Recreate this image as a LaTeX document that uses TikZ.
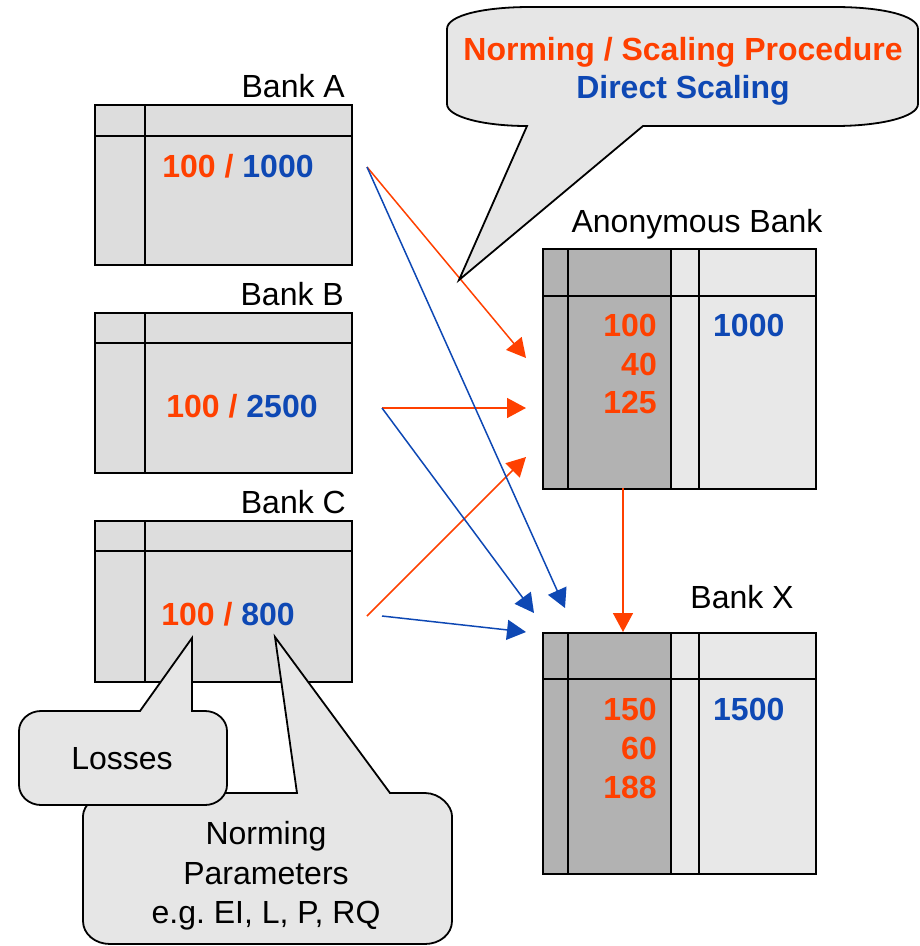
\documentclass[tikz,border=0pt]{standalone}
\usepackage{fontspec}
\setmainfont{Liberation Sans}
\usetikzlibrary{arrows.meta}
\frenchspacing
\definecolor{orng}{RGB}{255,64,0}
\definecolor{blu}{RGB}{14,72,180}
\definecolor{bankfill}{RGB}{221,221,221}
\definecolor{darkfill}{RGB}{178,178,178}
\definecolor{lightfill}{RGB}{232,232,232}
\definecolor{callfill}{RGB}{230,230,230}
\begin{document}
\begin{tikzpicture}[x=1pt,y=-1pt,
  tbl/.style={line width=2pt, draw=black},
  lbl/.style={font=\fontsize{32}{39.5}\selectfont, inner sep=0pt},
  num/.style={font=\fontsize{32}{39}\selectfont\bfseries, inner sep=0pt},
  oarr/.style={draw=orng, line width=1.5pt, -{Triangle[length=19pt,width=20pt]}},
  barr/.style={draw=blu, line width=1.5pt, -{Triangle[length=19pt,width=20pt]}},
  callout/.style={draw=black, line width=1.8pt, fill=callfill, line join=miter}
]
\useasboundingbox (0,0) rectangle (920,946);

% ---------- Bank A ----------
\node[tbl, fill=bankfill, anchor=north west, minimum width=257pt, minimum height=160pt, inner sep=0pt] (A) at (94,104) {};
\draw[tbl] (145,104) -- (145,264) (94,136) -- (351,136);
\node[lbl, anchor=base east] (labA) at (345,97) {Bank A};
\node[num, anchor=base] (valA) at (238,177) {\color{orng}100 / \color{blu}1000};

% ---------- Bank B ----------
\node[tbl, fill=bankfill, anchor=north west, minimum width=257pt, minimum height=160pt, inner sep=0pt] (B) at (94,312) {};
\draw[tbl] (145,312) -- (145,472) (94,343) -- (351,343);
\node[lbl, anchor=base east] (labB) at (344,305) {Bank B};
\node[num, anchor=base] (valB) at (242,417) {\color{orng}100 / \color{blu}2500};

% ---------- Bank C ----------
\node[tbl, fill=bankfill, anchor=north west, minimum width=257pt, minimum height=161pt, inner sep=0pt] (C) at (94,520) {};
\draw[tbl] (145,520) -- (145,681) (94,551) -- (351,551);
\node[lbl, anchor=base east] (labC) at (346,513) {Bank C};
\node[num, anchor=base] (valC) at (228,625) {\color{orng}100 / \color{blu}800};

% ---------- Anonymous Bank ----------
\fill[darkfill] (542,248) rectangle (671,488);
\fill[lightfill] (671,248) rectangle (815,488);
\node[tbl, anchor=north west, minimum width=273pt, minimum height=240pt, inner sep=0pt] (N) at (542,248) {};
\draw[tbl] (568,248) -- (568,488) (671,248) -- (671,488) (699,248) -- (699,488) (542,296) -- (815,296);
\node[lbl, anchor=base] (labN) at (697,232) {Anonymous Bank};
\node[num, anchor=base east, text=orng] (n1) at (657,336) {100};
\node[num, anchor=base east, text=orng] (n2) at (657,375) {40};
\node[num, anchor=base east, text=orng] (n3) at (657,413) {125};
\node[num, anchor=base west, text=blu] (n4) at (713,336) {1000};

% ---------- Bank X ----------
\fill[darkfill] (542,632) rectangle (671,873);
\fill[lightfill] (671,632) rectangle (815,873);
\node[tbl, anchor=north west, minimum width=273pt, minimum height=241pt, inner sep=0pt] (X) at (542,632) {};
\draw[tbl] (568,632) -- (568,873) (671,632) -- (671,873) (699,632) -- (699,873) (542,679) -- (815,679);
\node[lbl, anchor=base] (labX) at (742,608) {Bank X};
\node[num, anchor=base east, text=orng] (x1) at (657,720) {150};
\node[num, anchor=base east, text=orng] (x2) at (657,759) {60};
\node[num, anchor=base east, text=orng] (x3) at (657,798) {188};
\node[num, anchor=base west, text=blu] (x4) at (713,720) {1500};

% ---------- connector end points ----------
\coordinate (aS) at (367,167);
\coordinate (bS) at (382,408);
\coordinate (cSo) at (367,616);
\coordinate (cSb) at (382,616);
\coordinate (nT1) at (526,358);
\coordinate (nT2) at (526,408);
\coordinate (nT3) at (526,457);
\coordinate (xT1) at (565,608);
\coordinate (xT2) at (534,613);
\coordinate (xT3) at (526,632);
\coordinate (nB) at (623,488);
\coordinate (xTop) at (623,632);

% ---------- arrows ----------
\draw[oarr] (aS) -- (nT1);
\draw[oarr] (bS) -- (nT2);
\draw[oarr] (cSo) -- (nT3);
\draw[barr] (aS) -- (xT1);
\draw[barr] (bS) -- (xT2);
\draw[barr] (cSb) -- (xT3);
\draw[oarr] (nB) -- (xTop);

% ---------- callouts ----------
\draw[callout] (110,793) -- (297,793) -- (275,637) -- (390,793) -- (425,793)
  .. controls (440,793) and (452,806) .. (452,816) -- (452,921)
  .. controls (452,934) and (440,944) .. (425,944) -- (110,944)
  .. controls (95,944) and (83,934) .. (83,921) -- (83,816)
  .. controls (83,806) and (95,793) .. (110,793) -- cycle;
\node[lbl, align=center, anchor=center] (normp) at (266,876) {Norming\\Parameters\\e.g.\ EI, L, P, RQ};

\draw[callout] (41,711) -- (140,711) -- (192,638) -- (192,711) -- (205,711)
  .. controls (217,711) and (227,720) .. (227,731) -- (227,785)
  .. controls (227,796) and (217,805) .. (205,805) -- (41,805)
  .. controls (29,805) and (19,796) .. (19,785) -- (19,731)
  .. controls (19,720) and (29,711) .. (41,711) -- cycle;
\node[lbl, anchor=base] (loss) at (122,769) {Losses};

\draw[callout] (530,7) -- (835,7) .. controls (880,7) and (918,15) .. (918,29)
  -- (918,104) .. controls (918,117) and (880,126) .. (835,126)
  -- (643,126) -- (459,280) -- (527,126)
  .. controls (484,126) and (447,117) .. (447,104) -- (447,29)
  .. controls (447,15) and (485,7) .. (530,7) -- cycle;
\node[num, align=center, anchor=center, font=\fontsize{32}{38}\selectfont\bfseries] (proc) at (683,71) {\color{orng}Norming / Scaling Procedure\\\color{blu}Direct Scaling};
\end{tikzpicture}
\end{document}
